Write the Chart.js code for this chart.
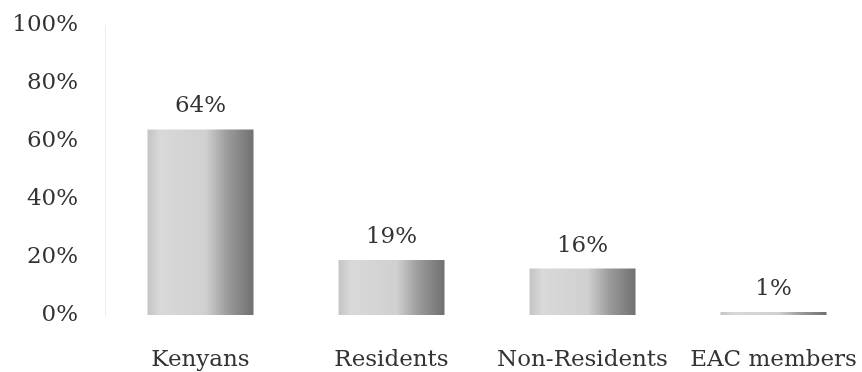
<!DOCTYPE html>
<html>
<head>
<meta charset="utf-8">
<script src="https://cdn.jsdelivr.net/npm/chart.js@4/dist/chart.umd.min.js"></script>
<style>
  html, body { margin:0; padding:0; background:#fff; overflow:hidden; }
  #wrap { width:869px; height:372px; }
</style>
</head>
<body>
<div id="wrap"><canvas id="chart"></canvas></div>
<script>
const categories = ["Kenyans", "Residents", "Non-Residents", "EAC members"];
const shares = [64, 19, 16, 1];
const yTicks = [0, 20, 40, 60, 80, 100];

const FONT = "'DejaVu Serif', 'Liberation Serif', serif";
const BAR_PCT = 0.555;

// horizontal grey gradient per bar, light on the left, dark at the right edge
function barFill(ctx){
  const chart = ctx.chart;
  const x = chart.scales.x;
  if (!chart.chartArea || !x) return "#bbb";
  const cx = x.getPixelForValue(ctx.dataIndex);
  const w = (x.width / categories.length) * BAR_PCT;
  const g = chart.ctx.createLinearGradient(cx - w/2, 0, cx + w/2, 0);
  g.addColorStop(0, "#c4c4c4");
  g.addColorStop(0.12, "#d9d9d9");
  g.addColorStop(0.55, "#d0d0d0");
  g.addColorStop(0.75, "#9c9c9c");
  g.addColorStop(1, "#707070");
  return g;
}

const valueLabels = {
  id: "valueLabels",
  afterDatasetsDraw(chart){
    const c = chart.ctx;
    c.save();
    c.font = "23px " + FONT;
    c.fillStyle = "#333";
    c.textAlign = "center";
    c.textBaseline = "middle";
    chart.getDatasetMeta(0).data.forEach((el, i) => {
      c.fillText(shares[i] + "%", el.x, el.y - 23);
    });
    c.restore();
  }
};

new Chart(document.getElementById("chart"), {
  type: "bar",
  data: {
    labels: categories,
    datasets: [{
      data: shares,
      backgroundColor: barFill,
      borderWidth: 0,
      barPercentage: BAR_PCT,
      categoryPercentage: 1
    }]
  },
  options: {
    responsive: true,
    maintainAspectRatio: false,
    animation: false,
    layout: { padding: { top: 25, right: 0, left: 0, bottom: 0 } },
    plugins: { legend: { display: false }, tooltip: { enabled: false } },
    scales: {
      x: {
        grid: { display: false, drawTicks: false },
        border: { display: false },
        ticks: { color: "#333", font: { family: FONT, size: 23 }, padding: 31, maxRotation: 0 },
        afterFit: s => { s.height = 57; s.paddingLeft = 0; s.paddingRight = 0; }
      },
      y: {
        min: 0, max: 100,
        afterBuildTicks: s => { s.ticks = yTicks.map(v => ({ value: v })); },
        grid: { display: false, drawTicks: false },
        border: { display: true, color: "#ececec" },
        ticks: { color: "#333", font: { family: FONT, size: 23 }, padding: 27, callback: v => v + "%" },
        afterFit: s => { s.width = 105; s.paddingTop = 0; s.paddingBottom = 0; }
      }
    }
  },
  plugins: [valueLabels]
});
</script>
</body>
</html>
